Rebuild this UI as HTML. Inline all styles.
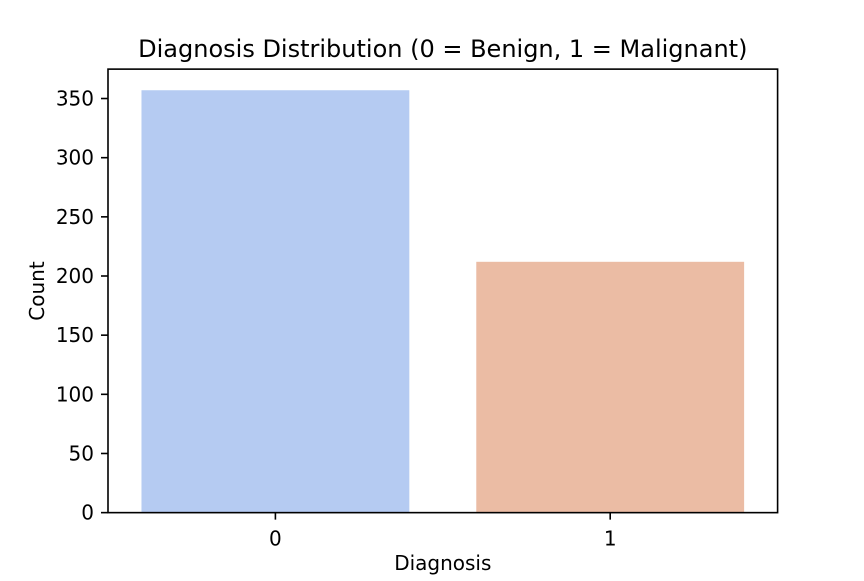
<!DOCTYPE html>
<html><head><meta charset="utf-8"><style>
html,body{margin:0;padding:0;background:#fff}
svg text{font-family:"DejaVu Sans","Liberation Sans",sans-serif;fill:#000}
</style></head><body>
<svg id="chart" width="864" height="576" xmlns="http://www.w3.org/2000/svg">
<rect width="864" height="576" fill="#fff"/>
<g id="bars"></g>
<g id="yticks"></g>
<g id="xticks"></g>
<rect x="108" y="69.12" width="669.6" height="443.52" fill="none" stroke="#000" stroke-width="1.6"/>
<text x="442.8" y="57" font-size="24" text-anchor="middle">Diagnosis Distribution (0 = Benign, 1 = Malignant)</text>
<text x="442.8" y="570" font-size="20" text-anchor="middle">Diagnosis</text>
<text x="0" y="0" font-size="20" text-anchor="middle" transform="translate(44,291) rotate(-90)">Count</text>
</svg>
<script>
const categories = ["0","1"];
const counts = [357, 212];
const colors = ["#b5cbf2","#ebbca4"];
const yTicks = [0,50,100,150,200,250,300,350];
const L=108,R=777.6,T=69.12,B=512.64;
const yMax = Math.max(...counts)*1.05;
const y = v => B - v/yMax*(B-T);
const x = i => L + (i+0.5)/categories.length*(R-L);
const bw = 0.8*(R-L)/categories.length;
const NS="http://www.w3.org/2000/svg";
const bars=document.getElementById('bars'), yt=document.getElementById('yticks'), xt=document.getElementById('xticks');
counts.forEach((c,i)=>{
  const r=document.createElementNS(NS,'rect');
  r.setAttribute('x',x(i)-bw/2);r.setAttribute('y',y(c));
  r.setAttribute('width',bw);r.setAttribute('height',B-y(c));
  r.setAttribute('fill',colors[i]);
  
  
  bars.appendChild(r);
  const l=document.createElementNS(NS,'line');
  l.setAttribute('x1',x(i));l.setAttribute('x2',x(i));l.setAttribute('y1',B);l.setAttribute('y2',B+7);
  l.setAttribute('stroke','#000');l.setAttribute('stroke-width','1.6');
  
  
  xt.appendChild(l);
  const t=document.createElementNS(NS,'text');
  t.setAttribute('x',x(i));t.setAttribute('y',B+33);t.setAttribute('font-size','20');t.setAttribute('text-anchor','middle');
  t.textContent=categories[i];
  
  
  xt.appendChild(t);
});
yTicks.forEach(v=>{
  const l=document.createElementNS(NS,'line');
  l.setAttribute('x1',L-7);l.setAttribute('x2',L);l.setAttribute('y1',y(v));l.setAttribute('y2',y(v));
  l.setAttribute('stroke','#000');l.setAttribute('stroke-width','1.6');
  
  
  yt.appendChild(l);
  const t=document.createElementNS(NS,'text');
  t.setAttribute('x',L-14);t.setAttribute('y',y(v)+7);t.setAttribute('font-size','20');t.setAttribute('text-anchor','end');
  t.textContent=v;
  
  
  yt.appendChild(t);
});
</script>
</body></html>
